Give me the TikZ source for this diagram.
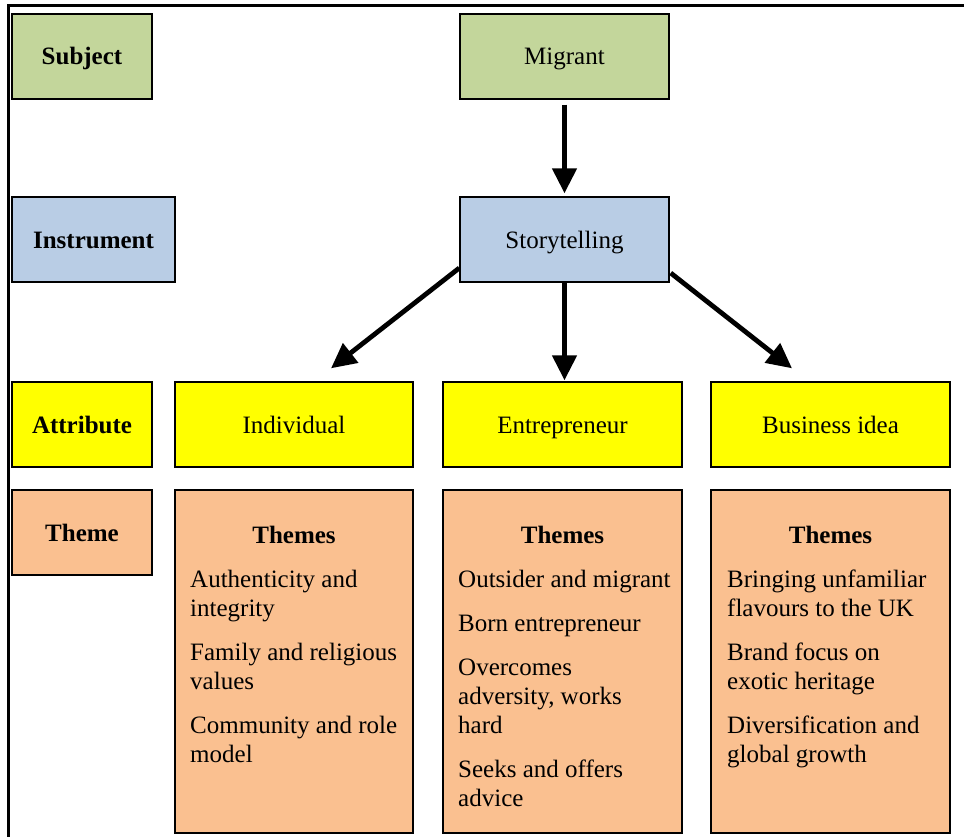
\documentclass[tikz,border=0pt]{standalone}
\usepackage{fontspec}
\setmainfont{Liberation Serif}
\usetikzlibrary{arrows.meta}
\definecolor{cgreen}{HTML}{C3D69B}
\definecolor{cblue}{HTML}{B9CDE5}
\definecolor{cyellow}{HTML}{FFFF00}
\definecolor{corange}{HTML}{FAC090}
\tikzset{
  box/.style={draw=black, line width=1.4pt, minimum height=85pt, inner sep=0pt,
    text height=17pt, text depth=0pt, font=\fontsize{25}{29}\selectfont},
  lbl/.style={box, font=\fontsize{25}{29}\selectfont\bfseries},
  tbox/.style={draw=black, line width=1.4pt, fill=corange, inner sep=0pt, minimum width=238pt, minimum height=343pt},
  item/.style={anchor=base west, inner sep=0pt, font=\fontsize{25}{29}\selectfont},
  head/.style={anchor=base, inner sep=0pt, font=\fontsize{25}{29}\selectfont\bfseries},
  arr/.style={line width=4.8pt, -{Triangle[length=25pt,width=24pt]}}
}
\begin{document}
\begin{tikzpicture}[x=1pt,y=-1pt]
\useasboundingbox (0,0) rectangle (964,837);
\fill[white] (0,0) rectangle (964,837);
% frame
\draw[line width=3pt] (8,837) -- (8,6) -- (964,6);
% left labels
\node[lbl, fill=cgreen, minimum width=140pt] (subj) at (82,56.5) {Subject};
\node[lbl, fill=cblue, minimum width=163pt] (instr) at (93.5,239.5) {Instrument};
\node[lbl, fill=cyellow, minimum width=140pt] (attr) at (82,424.5) {Attribute};
\node[lbl, fill=corange, minimum width=140pt] (theme) at (82,532.5) {Theme};
% main boxes
\node[box, fill=cgreen, minimum width=209pt] (mig) at (564.5,56.5) {Migrant};
\node[box, fill=cblue, minimum width=209pt] (sto) at (564.5,239.5) {Storytelling};
\node[box, fill=cyellow, minimum width=238pt] (ind) at (294,424.5) {Individual};
\node[box, fill=cyellow, minimum width=239pt] (ent) at (562.5,424.5) {Entrepreneur};
\node[box, fill=cyellow, minimum width=239pt] (biz) at (830.5,424.5) {Business idea};
% theme boxes
\node[tbox] (th1) at (294,661.5) {};
\node[tbox, minimum width=239pt] (th2) at (562.5,661.5) {};
\node[tbox, minimum width=239pt] (th3) at (830.5,661.5) {};
% column 1
\node[head] (h1) at (294,543.5) {Themes};
\node[item] (a1) at (190,587) {Authenticity and};
\node[item] (a2) at (190,616) {integrity};
\node[item] (a3) at (190,660) {Family and religious};
\node[item] (a4) at (190,689) {values};
\node[item] (a5) at (190,733) {Community and role};
\node[item] (a6) at (190,762) {model};
% column 2
\node[head] (h2) at (562.5,543.5) {Themes};
\node[item] (b1) at (458,587) {Outsider and migrant};
\node[item] (b2) at (458,631.5) {Born entrepreneur};
\node[item] (b3) at (458,675) {Overcomes};
\node[item] (b4) at (458,704) {adversity, works};
\node[item] (b5) at (458,733) {hard};
\node[item] (b6) at (458,777) {Seeks and offers};
\node[item] (b7) at (458,806) {advice};
% column 3
\node[head] (h3) at (830.5,543.5) {Themes};
\node[item] (c1) at (727,587) {Bringing unfamiliar};
\node[item] (c2) at (727,616) {flavours to the UK};
\node[item] (c3) at (727,660) {Brand focus on};
\node[item] (c4) at (727,689) {exotic heritage};
\node[item] (c5) at (727,733) {Diversification and};
\node[item] (c6) at (727,762) {global growth};
% arrows
\coordinate (p1s) at ([yshift=-5pt]mig.south);
\coordinate (p1e) at ([yshift=3pt]sto.north);
\draw[arr] (p1s) -- (p1e);
\coordinate (p2s) at ([yshift=-28.5pt]sto.west);
\coordinate (p2e) at ([xshift=37pt,yshift=13pt]ind.north);
\draw[arr] (p2s) -- (p2e);
\coordinate (p3s) at (sto.south);
\coordinate (p3e) at ([yshift=1pt]sto.south |- ent.north);
\draw[arr] (p3s) -- (p3e);
\coordinate (p4s) at ([xshift=1pt,yshift=-33.5pt]sto.east);
\coordinate (p4e) at ([xshift=-38.5pt,yshift=13pt]biz.north);
\draw[arr] (p4s) -- (p4e);
\end{tikzpicture}
\end{document}
